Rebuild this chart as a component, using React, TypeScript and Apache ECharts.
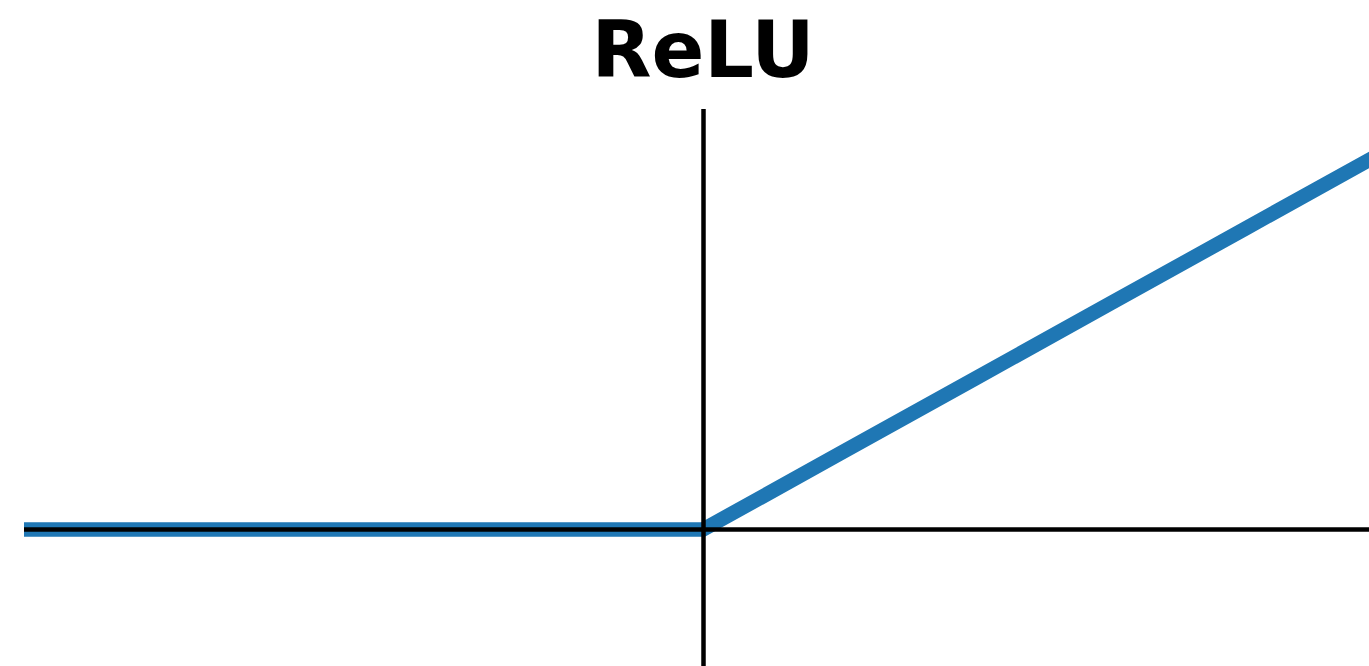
import React, { useEffect, useRef } from "react";
import * as echarts from "echarts";

const xValues = [-5, -4, -3, -2, -1, 0, 1, 2, 3, 4, 5];
const reluValues = [0, 0, 0, 0, 0, 0, 1, 2, 3, 4, 5];
const titleText = "ReLU";

export default function App() {
  const ref = useRef<HTMLDivElement>(null);
  useEffect(() => {
    document.body.style.margin = "0";
    document.body.style.overflow = "hidden";
    const chart = echarts.init(ref.current!, null, { renderer: "svg" });
    chart.setOption({
      animation: false,
      backgroundColor: "#ffffff",
      graphic: [
        {
          type: "text",
          x: 703,
          y: 11,
          z: 10,
          style: {
            text: titleText,
            align: "center",
            verticalAlign: "top",
            fontFamily: "DejaVu Sans",
            fontWeight: "bold",
            fontSize: 78,
            fill: "#000000",
          },
        },
      ],
      grid: { left: 24, top: 109, right: 0, bottom: 0 },
      xAxis: {
        type: "value",
        min: -5,
        max: 4.904,
        z: 5,
        axisLine: { onZero: true, lineStyle: { color: "#000000", width: 4.5, cap: "butt" } },
        axisTick: { show: false },
        axisLabel: { show: false },
        splitLine: { show: false },
      },
      yAxis: {
        type: "value",
        min: -1.81,
        max: 5.58,
        z: 5,
        axisLine: { onZero: true, lineStyle: { color: "#000000", width: 4.5, cap: "butt" } },
        axisTick: { show: false },
        axisLabel: { show: false },
        splitLine: { show: false },
      },
      series: [
        {
          type: "line",
          data: xValues.map((x, i) => [x, reluValues[i]]),
          showSymbol: false,
          symbol: "none",
          lineStyle: { color: "#1f77b4", width: 14.5, cap: "butt", join: "miter" },
          z: 2,
        },
      ],
    });
    return () => chart.dispose();
  }, []);
  return <div ref={ref} style={{ width: 1369, height: 666 }} />;
}
